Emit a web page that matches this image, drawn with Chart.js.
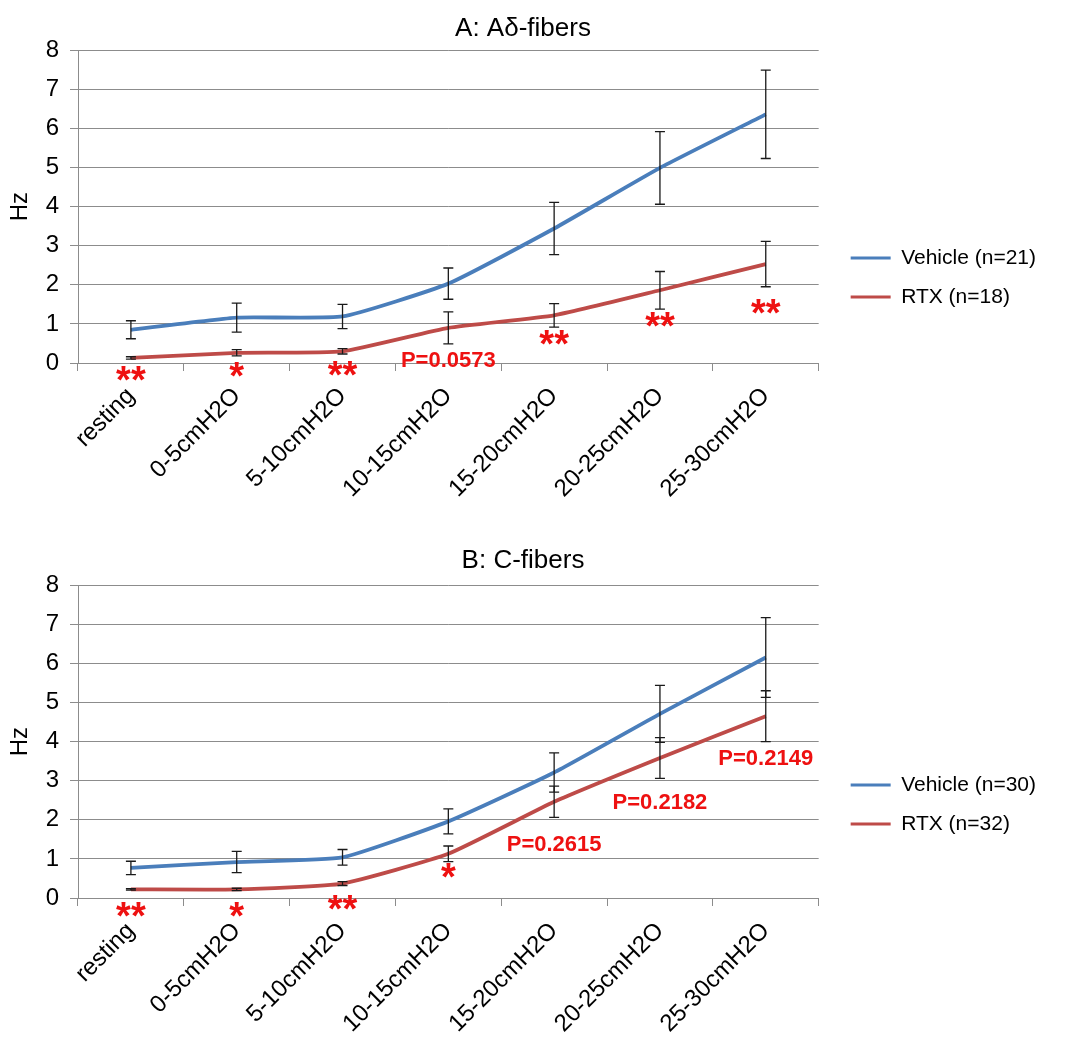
<!DOCTYPE html>
<html>
<head>
<meta charset="utf-8">
<script src="https://cdn.jsdelivr.net/npm/chart.js@4"></script>
<style>
  html, body { margin: 0; padding: 0; background: #fff; }
  #wrap { position: relative; width: 1070px; height: 1041px; }
  .box { position: absolute; left: 0; width: 1070px; }
</style>
</head>
<body>
<div id="wrap">
  <div class="box" style="top:0; height:522px;"><canvas id="chartA"></canvas></div>
  <div class="box" style="top:535px; height:506px;"><canvas id="chartB"></canvas></div>
</div>
<script>
// категории (ступени давления)
const categories = ['resting', '0-5cmH2O', '5-10cmH2O', '10-15cmH2O', '15-20cmH2O', '20-25cmH2O', '25-30cmH2O'];
const yTicks = [0, 1, 2, 3, 4, 5, 6, 7, 8];

// A: Aδ-fibers
const vehicleA = [0.85, 1.16, 1.19, 2.03, 3.44, 4.99, 6.36];
const vehicleErrA = [0.23, 0.37, 0.31, 0.40, 0.67, 0.93, 1.13];
const rtxA = [0.13, 0.26, 0.30, 0.90, 1.22, 1.86, 2.53];
const rtxErrA = [0.03, 0.08, 0.07, 0.41, 0.30, 0.48, 0.58];
const marksA = ['**', '*', '**', 'P=0.0573', '**', '**', '**'];
const marksYA = [-0.35, -0.24, -0.22, 0.04, 0.56, 1.03, 1.37];

// B: C-fibers
const vehicleB = [0.77, 0.92, 1.04, 1.96, 3.21, 4.71, 6.15];
const vehicleErrB = [0.17, 0.27, 0.20, 0.32, 0.50, 0.73, 1.02];
const rtxB = [0.22, 0.22, 0.37, 1.13, 2.46, 3.58, 4.65];
const rtxErrB = [0.02, 0.03, 0.05, 0.20, 0.40, 0.52, 0.65];
const marksB = ['**', '*', '**', '*', 'P=0.2615', 'P=0.2182', 'P=0.2149'];
const marksYB = [-0.38, -0.38, -0.19, 0.62, 1.36, 2.44, 3.55];

const FONT = "'Liberation Sans', Arial, sans-serif";
const BLUE = '#4a7ebb';
const RED = '#be4b48';
const GRID = '#8c8c8c';

Chart.defaults.font.family = FONT;
Chart.defaults.color = '#000';

// усы ошибок поверх линий
const errorBars = {
  id: 'errorBars',
  afterDatasetsDraw(chart) {
    const ctx = chart.ctx;
    const x = chart.scales.x, y = chart.scales.y;
    ctx.save();
    ctx.strokeStyle = '#1a1a1a';
    ctx.lineWidth = 1.3;
    chart.data.datasets.forEach(ds => {
      ds.data.forEach((v, i) => {
        const px = x.getPixelForValue(i);
        const top = y.getPixelForValue(v + ds.errors[i]);
        const bot = y.getPixelForValue(v - ds.errors[i]);
        ctx.beginPath();
        ctx.moveTo(px, top); ctx.lineTo(px, bot);
        ctx.moveTo(px - 5, top); ctx.lineTo(px + 5, top);
        ctx.moveTo(px - 5, bot); ctx.lineTo(px + 5, bot);
        ctx.stroke();
      });
    });
    ctx.restore();
  }
};

function makeChart(id, title, titlePad, xHeight, veh, vehErr, rtx, rtxErr, nVeh, nRtx, marks, marksY) {
  // звёздочки и p-значения
  const sigMarks = {
    id: 'sigMarks',
    afterDatasetsDraw(chart) {
      const ctx = chart.ctx;
      const x = chart.scales.x, y = chart.scales.y;
      ctx.save();
      ctx.fillStyle = '#ee1111';
      ctx.textAlign = 'center';
      marks.forEach((t, i) => {
        const px = x.getPixelForValue(i);
        const py = y.getPixelForValue(marksY[i]);
        if (t.startsWith('P')) {
          ctx.font = 'bold 22px ' + FONT;
          ctx.textBaseline = 'middle';
          ctx.fillText(t, px, py);
        } else {
          ctx.font = 'bold 38px ' + FONT;
          ctx.textBaseline = 'alphabetic';
          ctx.fillText(t, px, py + 38 * 0.43);
        }
      });
      ctx.restore();
    }
  };

  return new Chart(document.getElementById(id), {
    type: 'line',
    data: {
      labels: categories,
      datasets: [
        { label: 'Vehicle (n=' + nVeh + ')', data: veh, errors: vehErr, borderColor: BLUE, backgroundColor: BLUE,
          borderWidth: 3.8, pointRadius: 0, tension: 0.15, fill: false },
        { label: 'RTX (n=' + nRtx + ')', data: rtx, errors: rtxErr, borderColor: RED, backgroundColor: RED,
          borderWidth: 3.8, pointRadius: 0, tension: 0.15, fill: false }
      ]
    },
    options: {
      responsive: true,
      maintainAspectRatio: false,
      animation: false,
      devicePixelRatio: 1,
      layout: { padding: { left: 0, right: 24, top: 0, bottom: 0 } },
      plugins: {
        title: { display: true, text: title, font: { size: 26, weight: 'normal' }, color: '#000',
                 padding: titlePad },
        legend: {
          position: 'right',
          maxWidth: 320,
          title: { display: true, text: ' ', font: { size: 27.5 }, padding: 0 },
          labels: {
            font: { size: 21 }, color: '#000', boxWidth: 40, boxHeight: 3, padding: 18,
            generateLabels: chart => Chart.defaults.plugins.legend.labels.generateLabels(chart)
              .map(l => Object.assign(l, { fillStyle: l.strokeStyle, lineWidth: 0 }))
          }
        },
        tooltip: { enabled: false }
      },
      scales: {
        x: {
          offset: true,
          grid: { offset: true, drawOnChartArea: false, drawTicks: true, tickLength: 8, color: GRID },
          border: { color: GRID },
          ticks: { font: { size: 24 }, color: '#000', maxRotation: 45, minRotation: 45, padding: 11, autoSkip: false },
          afterFit: s => { s.height = xHeight; }
        },
        y: {
          min: 0, max: 8,
          afterBuildTicks: s => { s.ticks = yTicks.map(v => ({ value: v })); },
          grid: { color: GRID, tickLength: 8 },
          border: { color: GRID },
          ticks: { font: { size: 24 }, color: '#000', padding: 11 },
          title: { display: true, text: 'Hz', font: { size: 24 }, color: '#000', padding: { top: 6, bottom: 0 } },
          afterFit: s => { s.width = 78; }
        },
        gap: {
          type: 'linear', position: 'right', display: true,
          grid: { display: false }, border: { display: false }, ticks: { display: false },
          afterFit: s => { s.width = 14; }
        }
      }
    },
    plugins: [errorBars, sigMarks]
  });
}

makeChart('chartA', 'A: A\u03b4-fibers', { top: 13, bottom: 6 }, 159, vehicleA, vehicleErrA, rtxA, rtxErrA, 21, 18, marksA, marksYA);
makeChart('chartB', 'B: C-fibers', { top: 10, bottom: 9 }, 143, vehicleB, vehicleErrB, rtxB, rtxErrB, 30, 32, marksB, marksYB);
</script>
</body>
</html>
